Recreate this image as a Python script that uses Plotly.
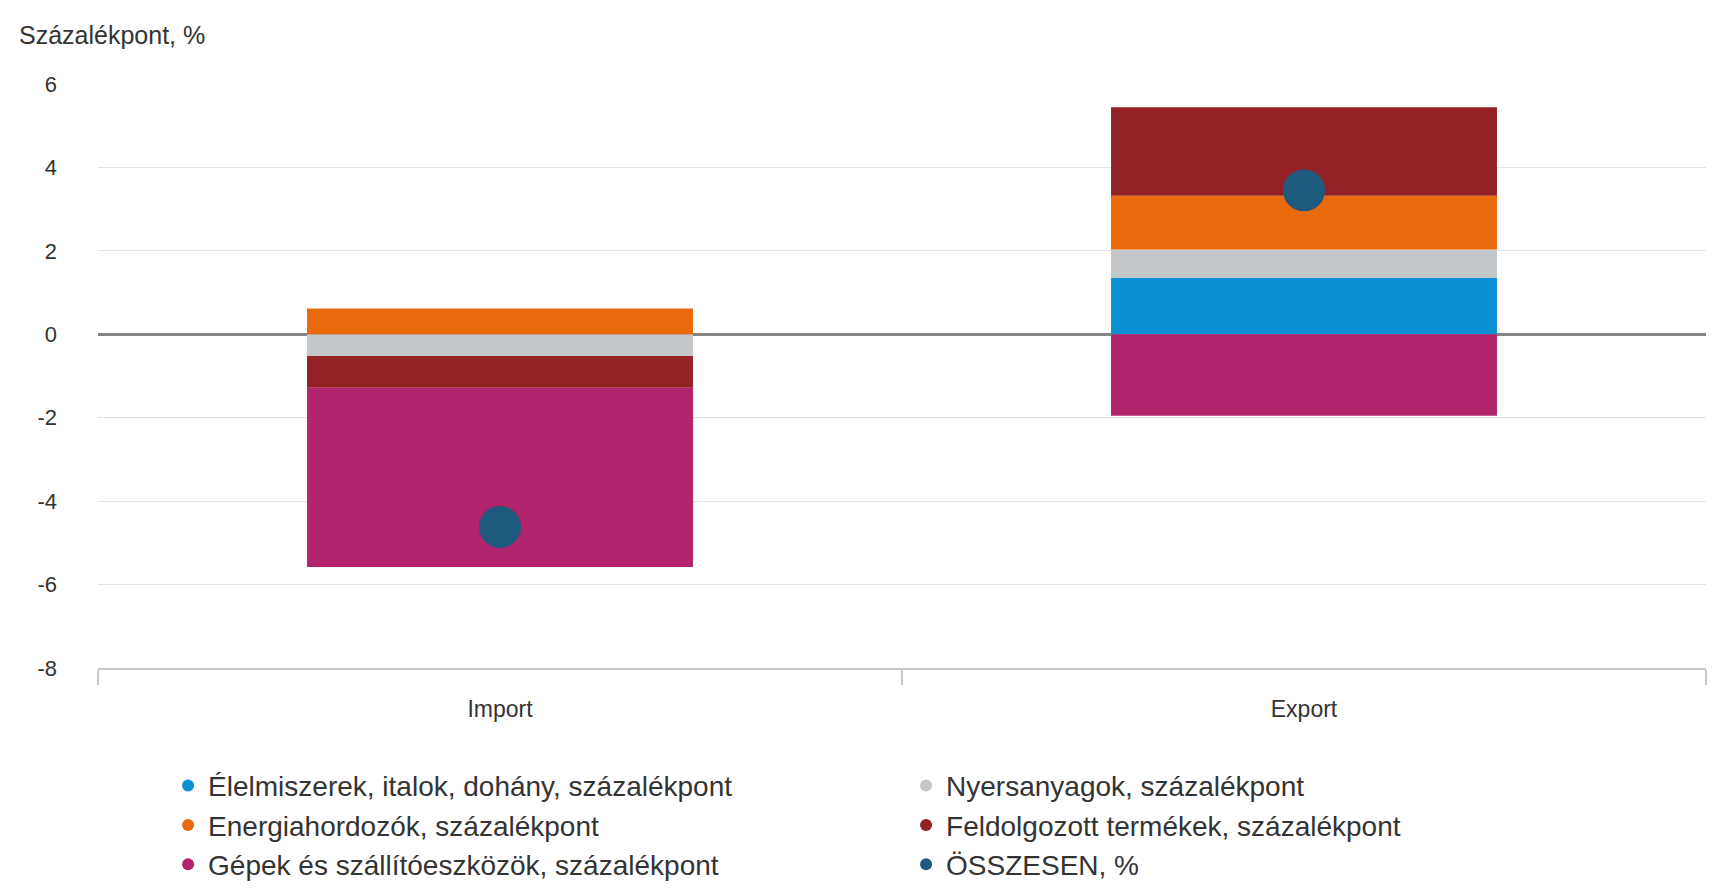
import plotly.graph_objects as go

categories = ["Import", "Export"]

food = [0.0, 1.35]        # Élelmiszerek, italok, dohány
raw = [-0.52, 0.68]       # Nyersanyagok
energy = [0.62, 1.29]     # Energiahordozók
processed = [-0.76, 2.12] # Feldolgozott termékek
machinery = [-4.30, -1.95]  # Gépek és szállítóeszközök
total = [-4.62, 3.45]     # ÖSSZESEN

y_ticks = [-8, -6, -4, -2, 0, 2, 4, 6]
y_tick_labels = ["-8", "-6", "-4", "-2", "0", "2", "4", "6"]

series = [
    ("Élelmiszerek, italok, dohány, százalékpont", food, "#0A90D4"),
    ("Nyersanyagok, százalékpont", raw, "#C4C7C9"),
    ("Energiahordozók, százalékpont", energy, "#EA6A0B"),
    ("Feldolgozott termékek, százalékpont", processed, "#932125"),
    ("Gépek és szállítóeszközök, százalékpont", machinery, "#B2246B"),
]
total_name = "ÖSSZESEN, %"
total_color = "#1D5A7D"

FONT = "Liberation Sans, Arial, sans-serif"

fig = go.Figure()

for i, (name, vals, col) in enumerate(series):
    fig.add_trace(go.Bar(
        x=categories, y=vals, name=name, marker_color=col,
        marker_line_width=0, width=0.48, legendgroup=f"g{i}",
        showlegend=False,
    ))

fig.add_trace(go.Scatter(
    x=categories, y=total, mode="markers", name=total_name,
    marker=dict(size=42, color=total_color), showlegend=False,
    legendgroup="gt",
))

# legend entries (circle symbols)
for i, (name, vals, col) in enumerate(series):
    fig.add_trace(go.Scatter(
        x=[None], y=[None], mode="markers", name=name,
        marker=dict(size=16, color=col, symbol="circle"),
        legendgroup=f"g{i}", showlegend=True,
    ))
fig.add_trace(go.Scatter(
    x=[None], y=[None], mode="markers", name=total_name,
    marker=dict(size=16, color=total_color, symbol="circle"),
    legendgroup="gt", showlegend=True,
))

fig.update_layout(
    width=1712, height=880,
    barmode="relative",
    bargap=0.52,
    plot_bgcolor="white", paper_bgcolor="white",
    margin=dict(l=90, r=14, t=76, b=220),
    font=dict(family=FONT, color="#333333"),
    showlegend=True,
    legend=dict(
        orientation="h", xref="container", yref="container",
        x=0.0935, y=0.1445, xanchor="left", yanchor="top",
        font=dict(size=28, color="#333333", family=FONT),
        entrywidth=693, entrywidthmode="pixels",
        traceorder="normal", itemsizing="constant",
        bgcolor="rgba(0,0,0,0)",
    ),
    annotations=[dict(
        text="Százalékpont, %", xref="paper", yref="paper",
        x=-0.0505, y=1.084, xanchor="left", yanchor="middle",
        showarrow=False, font=dict(size=25, color="#333333", family=FONT),
    )],
)

fig.update_xaxes(
    type="category", tickson="boundaries", ticks="outside", ticklen=15,
    tickwidth=2, tickcolor="#C8C8C8", showline=True, linecolor="#C8C8C8",
    linewidth=2, showgrid=False, tickfont=dict(size=23, color="#333333"),
    ticklabelstandoff=19, zeroline=False,
)
fig.update_yaxes(
    range=[-8, 6], tickvals=y_ticks, ticktext=y_tick_labels,
    showgrid=True, gridcolor="#E3E3E3", gridwidth=1,
    zeroline=True, zerolinecolor="#858585", zerolinewidth=3,
    showline=False, ticks="", tickfont=dict(size=22, color="#333333"),
    ticklabelstandoff=40,
)

fig.write_html("out.html")
